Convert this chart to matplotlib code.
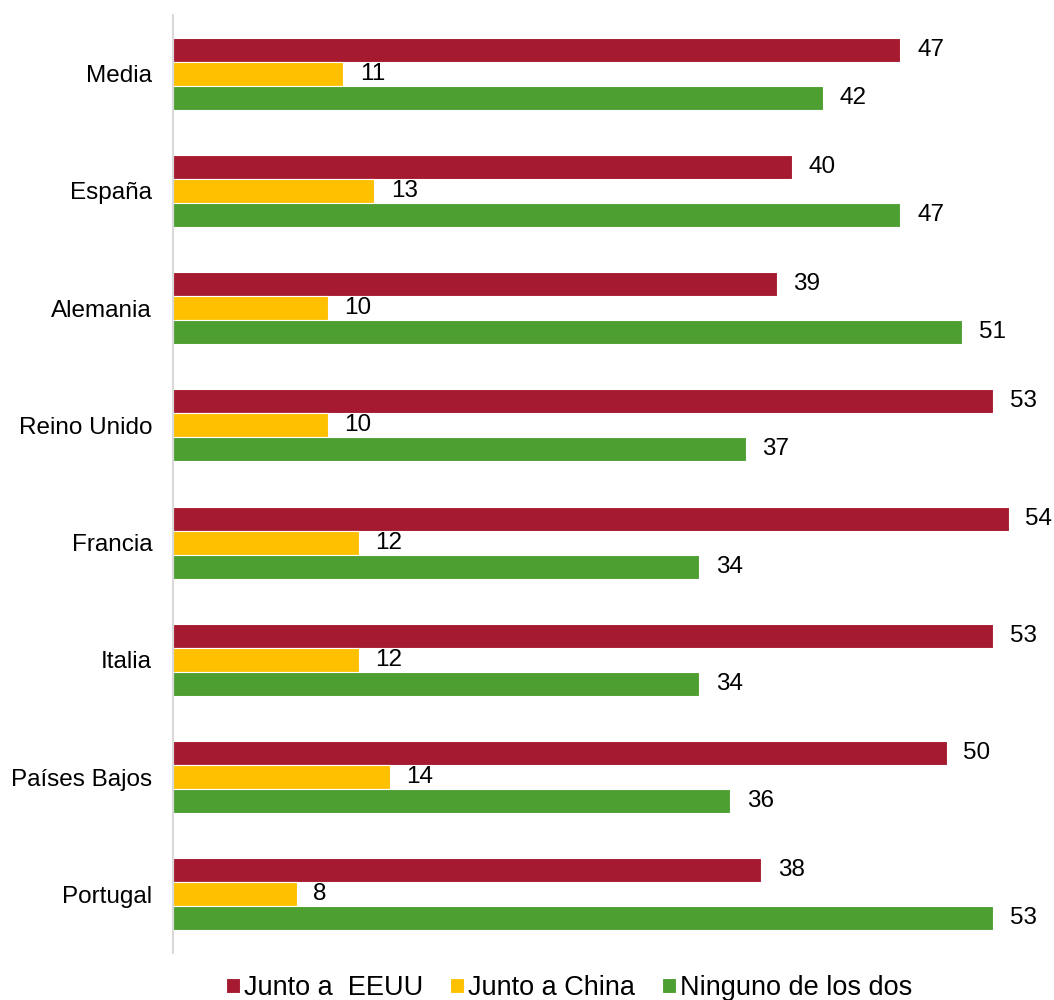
import numpy as np
import matplotlib
matplotlib.use("Agg")
import matplotlib.pyplot as plt

plt.rcParams['font.family'] = ['Liberation Sans', 'DejaVu Sans']

paises = ["Media", "España", "Alemania", "Reino Unido", "Francia", "Italia", "Países Bajos", "Portugal"]
eeuu = [47, 40, 39, 53, 54, 53, 50, 38]
china = [11, 13, 10, 10, 12, 12, 14, 8]
ninguno = [42, 47, 51, 37, 34, 34, 36, 53]

series = [
    ("Junto a  EEUU", eeuu, "#A61A30"),
    ("Junto a China", china, "#FFC000"),
    ("Ninguno de los dos", ninguno, "#4E9F31"),
]

fig = plt.figure(figsize=(10.54, 10), dpi=100)
ax = fig.add_axes([0.1641, 0.047, 0.837, 0.938])

y = np.arange(len(paises))
h = 0.205
for i, (nombre, vals, color) in enumerate(series):
    pos = y + (i - 1) * h
    bars = ax.barh(pos, vals, height=h, color=color, edgecolor="white", linewidth=0.8, label=nombre)
    for b, v in zip(bars, vals):
        ax.annotate(str(v), (v, b.get_y() + b.get_height() / 2), xytext=(12, 0),
                    textcoords="offset points", ha="left", va="center", fontsize=17.5, color="#000000")

ax.set_xlim(0, 57)
ax.set_ylim(len(paises) - 0.5, -0.5)
ax.set_yticks(y)
ax.set_yticklabels(paises, fontsize=17.5)
ax.tick_params(axis="y", length=0, pad=15)
ax.set_xticks([])
for s in ["top", "right", "bottom"]:
    ax.spines[s].set_visible(False)
ax.spines["left"].set_color("#D9D9D9")
ax.spines["left"].set_linewidth(1.5)

fig.legend(loc="center", bbox_to_anchor=(0.54, 0.012), ncol=3, frameon=False, fontsize=19.5,
           handlelength=0.5, handleheight=0.5, handletextpad=0.15, columnspacing=1.0)

fig.savefig("out.png", dpi=100)
